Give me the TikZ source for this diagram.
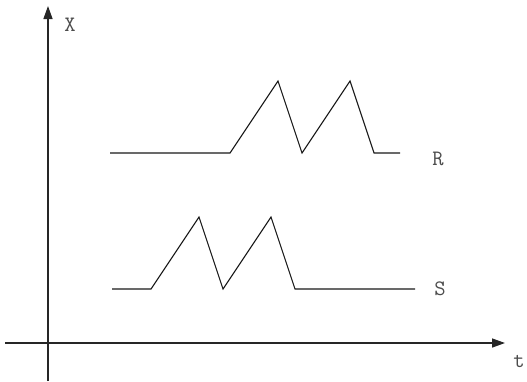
\documentclass[tikz,border=0pt]{standalone}
\usetikzlibrary{arrows.meta}
\tikzset{
    axis/.style={line width=1.4pt, draw=black!85, -{Triangle[length=13pt,width=9pt]}},
    signal/.style={line width=1.1pt, draw=black!90, line join=miter},
    axislabel/.style={font=\ttfamily\fontsize{22}{26}\selectfont, text=black!70, inner sep=0pt}
}
\begin{document}
\begin{tikzpicture}[x=1pt, y=-1pt]
            \useasboundingbox (0,0) rectangle (527,381);

            % Axes
            \coordinate (xlow) at (48,381);
            \coordinate (xtop) at (48,6);
            \coordinate (tleft) at (5,343);
            \coordinate (tright) at (505,343);
            \draw[axis] (xlow) -- (xtop);
            \draw[axis] (tleft) -- (tright);
            \node[axislabel] (xlabel) at (70,25) {X};
            \node[axislabel] (tlabel) at (519,361) {t};

            % Signal R (upper)
            \draw[signal] (110,153) -- (230,153) -- (278,81) -- (302,153)
                -- (350,81) -- (374,153) -- (400,153);
            \node[axislabel] (rlabel) at (438,159) {R};

            % Signal S (lower)
            \draw[signal] (112,289) -- (151,289) -- (199,217) -- (223,289)
                -- (271,217) -- (295,289) -- (415,289);
            \node[axislabel] (slabel) at (440,289) {S};
        \end{tikzpicture}
\end{document}
